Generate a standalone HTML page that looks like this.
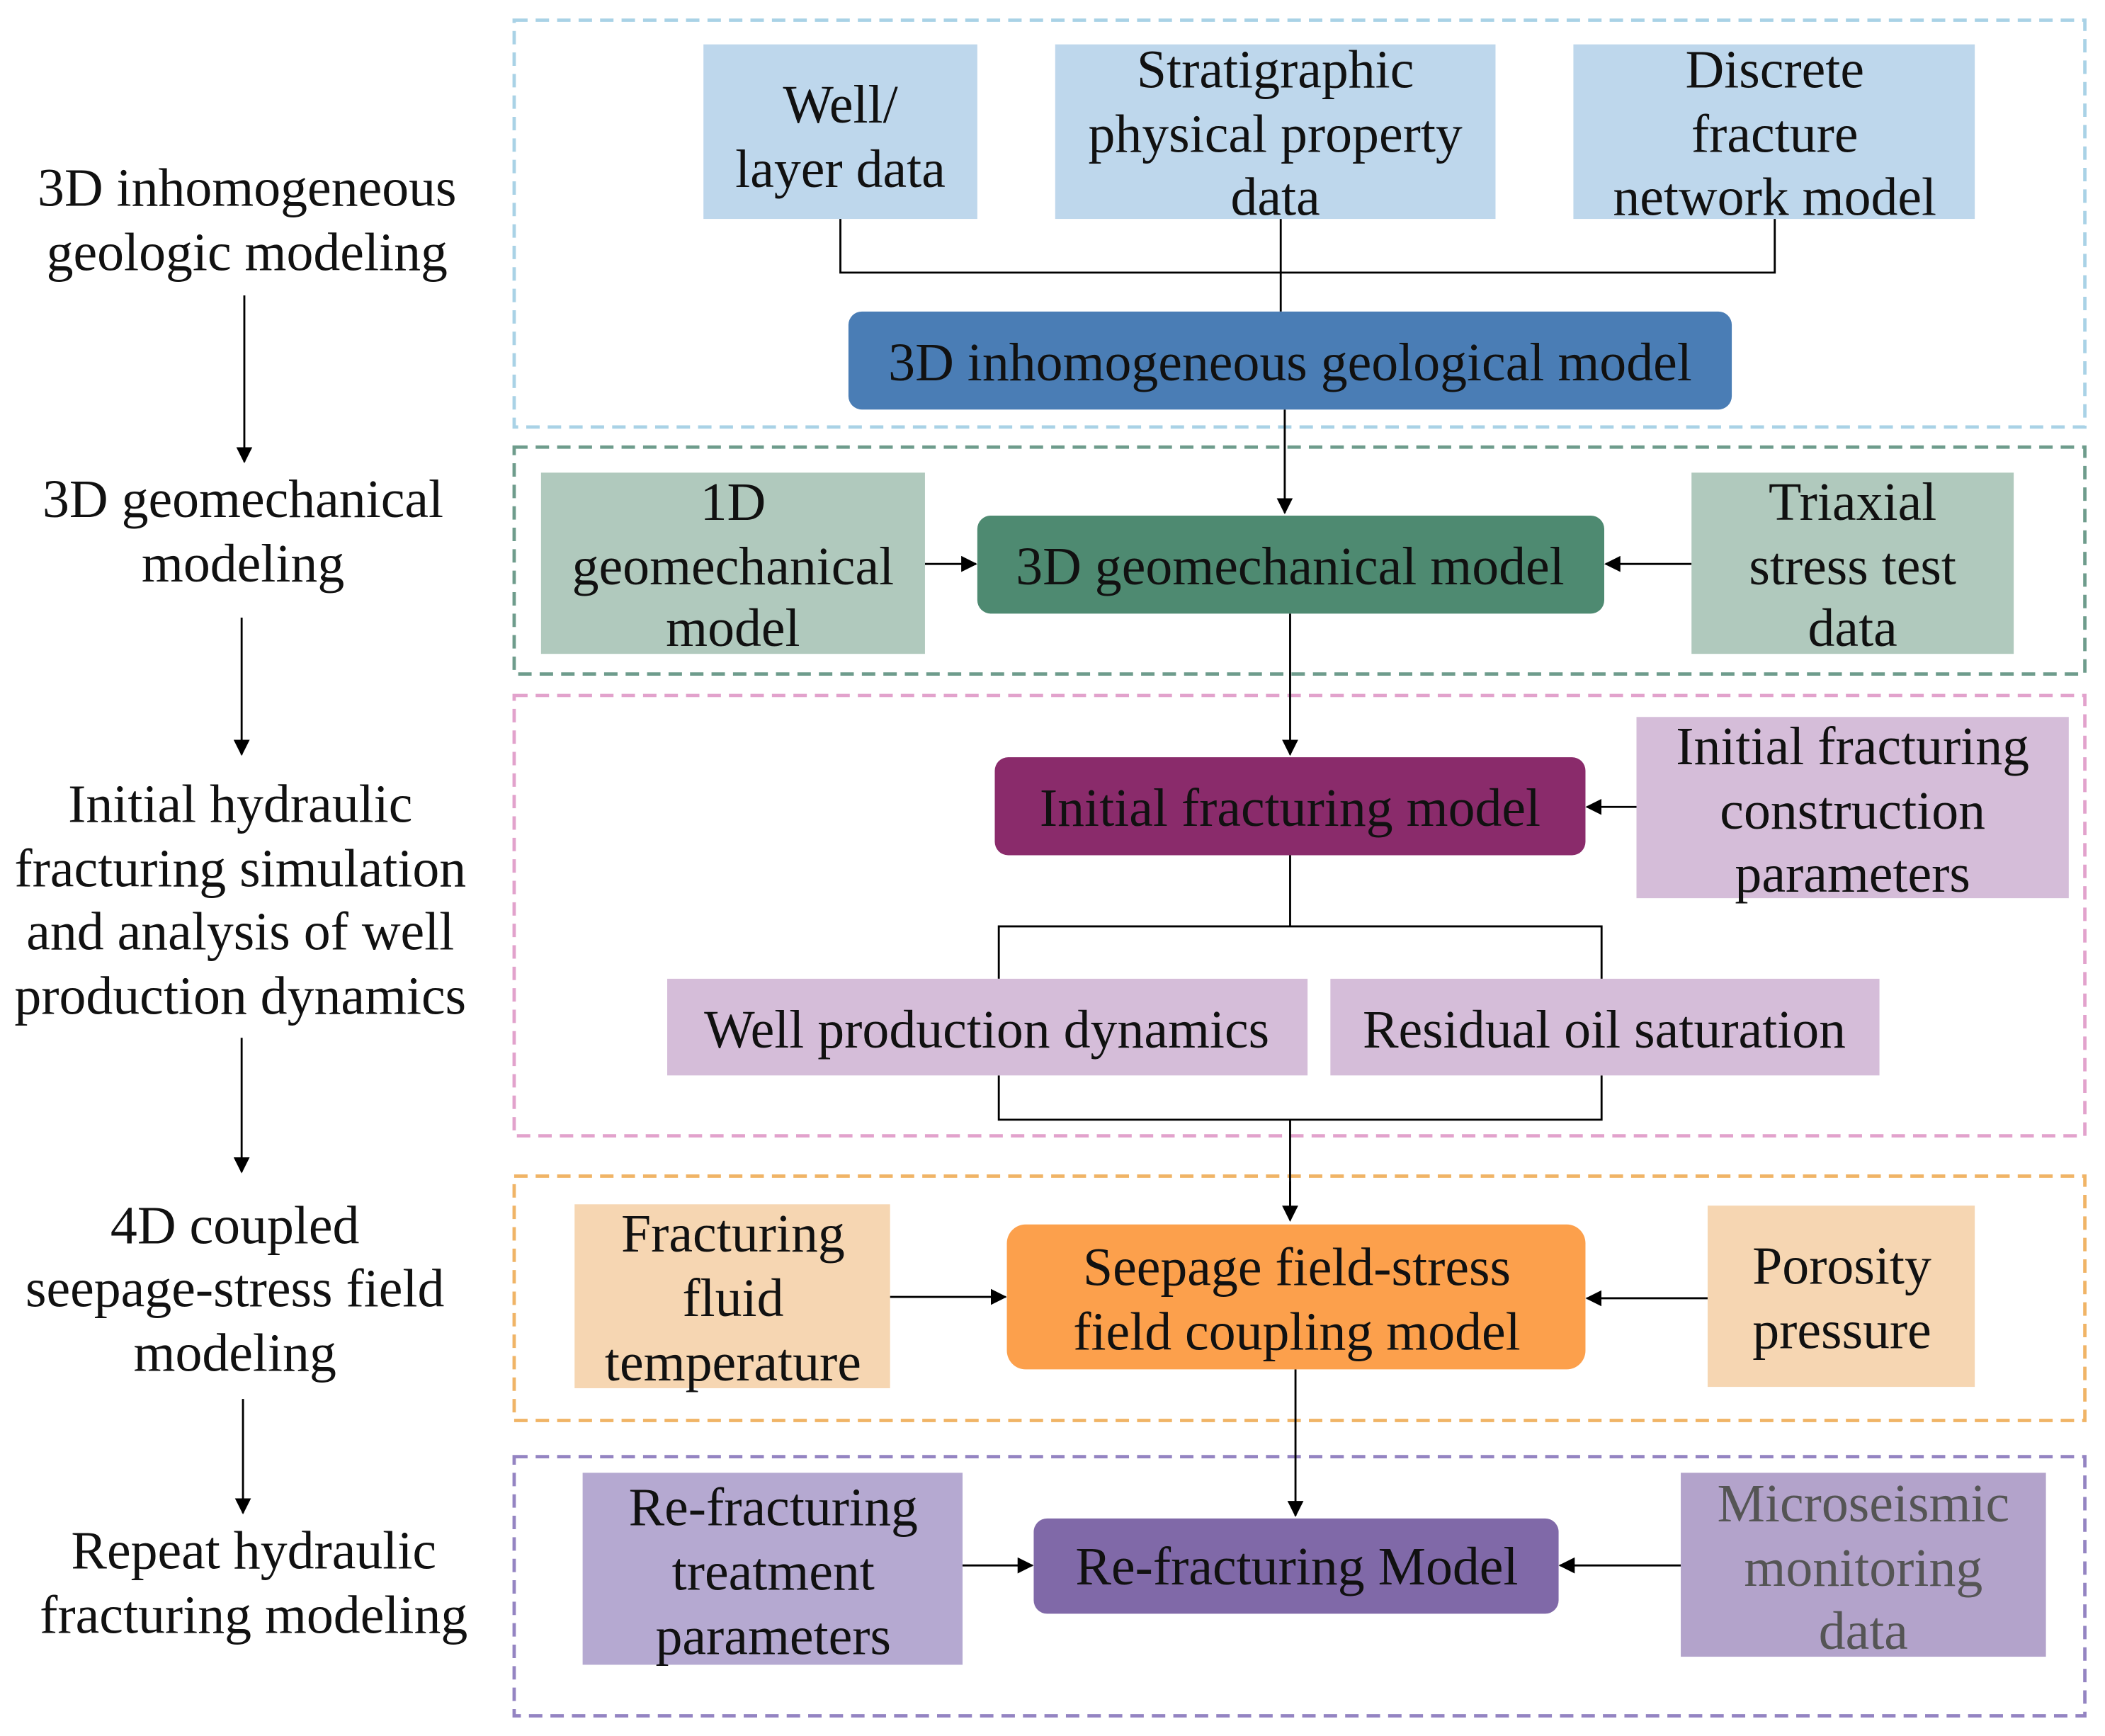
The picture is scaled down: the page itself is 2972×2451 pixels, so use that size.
<!DOCTYPE html>
<html><head><meta charset="utf-8"><style>
html,body{margin:0;padding:0;background:#fff;}
svg{display:block;}
text{font-family:"Liberation Serif",serif;font-size:40px;fill:#111;text-anchor:middle;dominant-baseline:central;}
</style></head><body>
<svg width="2972" height="2451" viewBox="0 0 1568 1293" xmlns="http://www.w3.org/2000/svg">
<defs><marker id="a" markerWidth="12" markerHeight="12" refX="11" refY="6" orient="auto" markerUnits="userSpaceOnUse"><path d="M0,0 L12,6 L0,12 z" fill="#000"/></marker></defs>
<rect width="1568" height="1293" fill="#fff"/>
<g fill="none" stroke-width="2.5" stroke-dasharray="10,6">
<rect x="383" y="15" width="1170" height="303" stroke="#a9d2e6"/>
<rect x="383" y="333" width="1170" height="169" stroke="#6e9c8c"/>
<rect x="383" y="518" width="1170" height="328" stroke="#e2a2cc"/>
<rect x="383" y="876" width="1170" height="182" stroke="#f0b466"/>
<rect x="383" y="1085" width="1170" height="193" stroke="#9484c2"/>
</g>
<rect x="524" y="33" width="204" height="130" fill="#bed7ec"/>
<rect x="786" y="33" width="328" height="130" fill="#bed7ec"/>
<rect x="1172" y="33" width="299" height="130" fill="#bed7ec"/>
<text x="626" y="78">Well/</text><text x="626" y="126">layer data</text>
<text x="950" y="52">Stratigraphic</text><text x="950" y="100">physical property</text><text x="950" y="147">data</text>
<text x="1322" y="52">Discrete</text><text x="1322" y="100">fracture</text><text x="1322" y="147">network model</text>
<g stroke="#000" stroke-width="1.5" fill="none">
<path d="M626 163V203H1322V163M954 163V232"/>
<path d="M957 305V382" marker-end="url(#a)"/>
<path d="M689 420H727" marker-end="url(#a)"/>
<path d="M1260 420H1196" marker-end="url(#a)"/>
<path d="M961 457V562" marker-end="url(#a)"/>
<path d="M1219 601H1182" marker-end="url(#a)"/>
<path d="M961 637V690M744 729V690H1193V729M744 801V834H1193V801M961 834V909" />
<path d="M961 880V909" marker-end="url(#a)"/>
<path d="M663 966H749" marker-end="url(#a)"/>
<path d="M1272 967H1182" marker-end="url(#a)"/>
<path d="M965 1020V1129" marker-end="url(#a)"/>
<path d="M717 1166H769" marker-end="url(#a)"/>
<path d="M1252 1166H1162" marker-end="url(#a)"/>
<path d="M182 220V344" marker-end="url(#a)"/>
<path d="M180 460V562" marker-end="url(#a)"/>
<path d="M180 773V873" marker-end="url(#a)"/>
<path d="M181 1042V1127" marker-end="url(#a)"/>
</g>
<rect x="632" y="232" width="658" height="73" rx="10" fill="#4a7db5"/>
<text x="961" y="270">3D inhomogeneous geological model</text>
<rect x="403" y="352" width="286" height="135" fill="#b0c9bd"/>
<text x="546" y="374">1D</text><text x="546" y="422">geomechanical</text><text x="546" y="468">model</text>
<rect x="728" y="384" width="467" height="73" rx="10" fill="#4e8a71"/>
<text x="961" y="422">3D geomechanical model</text>
<rect x="1260" y="352" width="240" height="135" fill="#b0c9bd"/>
<text x="1380" y="374">Triaxial</text><text x="1380" y="422">stress test</text><text x="1380" y="468">data</text>
<rect x="741" y="564" width="440" height="73" rx="10" fill="#8a2b6b"/>
<text x="961" y="602">Initial fracturing model</text>
<rect x="1219" y="534" width="322" height="135" fill="#d5bdd9"/>
<text x="1380" y="556">Initial fracturing</text><text x="1380" y="604">construction</text><text x="1380" y="651">parameters</text>
<rect x="497" y="729" width="477" height="72" fill="#d5bdd9"/>
<text x="735" y="767">Well production dynamics</text>
<rect x="991" y="729" width="409" height="72" fill="#d5bdd9"/>
<text x="1195" y="767">Residual oil saturation</text>
<rect x="428" y="897" width="235" height="137" fill="#f6d6b2"/>
<text x="546" y="919">Fracturing</text><text x="546" y="967">fluid</text><text x="546" y="1015">temperature</text>
<rect x="750" y="912" width="431" height="108" rx="14" fill="#fca04c"/>
<text x="966" y="944">Seepage field-stress</text><text x="966" y="992">field coupling model</text>
<rect x="1272" y="898" width="199" height="135" fill="#f6d6b2"/>
<text x="1372" y="943">Porosity</text><text x="1372" y="991">pressure</text>
<rect x="434" y="1097" width="283" height="143" fill="#b5a9d1"/>
<text x="576" y="1123">Re-fracturing</text><text x="576" y="1171">treatment</text><text x="576" y="1219">parameters</text>
<rect x="770" y="1131" width="391" height="71" rx="10" fill="#8069a8"/>
<text x="966" y="1167">Re-fracturing Model</text>
<rect x="1252" y="1097" width="272" height="137" fill="#b3a3cb"/>
<text x="1388" y="1120" style="fill:#555">Microseismic</text><text x="1388" y="1168" style="fill:#555">monitoring</text><text x="1388" y="1215" style="fill:#555">data</text>
<text x="184" y="140">3D inhomogeneous</text><text x="184" y="188">geologic modeling</text>
<text x="181" y="372">3D geomechanical</text><text x="181" y="420">modeling</text>
<text x="179" y="599">Initial hydraulic</text><text x="179" y="647">fracturing simulation</text><text x="179" y="694">and analysis of well</text><text x="179" y="742">production dynamics</text>
<text x="175" y="913">4D coupled</text><text x="175" y="960">seepage-stress field</text><text x="175" y="1008">modeling</text>
<text x="189" y="1155">Repeat hydraulic</text><text x="189" y="1203">fracturing modeling</text>
</svg>
</body></html>
